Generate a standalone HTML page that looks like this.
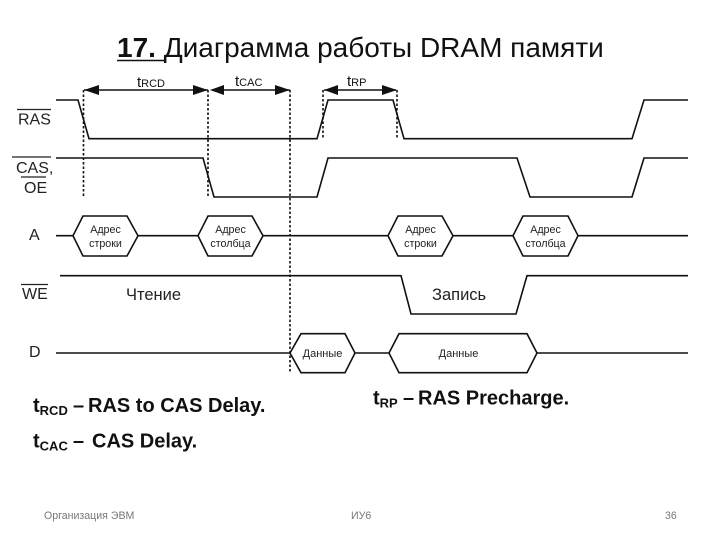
<!DOCTYPE html>
<html><head><meta charset="utf-8"><style>
html,body{margin:0;padding:0;background:#fff}
svg{display:block}
text{font-family:"Liberation Sans","Noto Sans CJK SC",sans-serif;fill:#111}
.l{font-size:16px;fill:#222}
.s{font-size:10.7px;text-anchor:middle;fill:#222}
.d{font-size:11px;text-anchor:middle;fill:#222}
.m{font-size:16.5px;fill:#222}
.sig{fill:none;stroke:#111;stroke-width:1.6}
.dot{fill:none;stroke:#111;stroke-width:1.6;stroke-dasharray:2.5 2}
.b{font-size:20px;font-weight:bold}
.sub{font-size:13px;font-weight:bold}
.f{font-size:10.6px;fill:#777}
</style></head><body>
<svg width="720" height="540" viewBox="0 0 720 540" xmlns="http://www.w3.org/2000/svg">
<text x="117" y="57" font-size="28"><tspan font-weight="bold">17. </tspan>Диаграмма работы DRAM памяти</text>
<line x1="117" y1="60.5" x2="164" y2="60.5" stroke="#111" stroke-width="1.5"/>

<path class="dot" d="M83.5 90V197M208 90V197M290 90V373M323 90V138M397 90V138"/>

<path class="sig" d="M84 90H208M212 90H290M324 90H396"/>
<g fill="#111">
<polygon points="84,90 99,85 99,95"/><polygon points="208,90 193,85 193,95"/>
<polygon points="210,90 224,85 224,95"/><polygon points="290,90 275,85 275,95"/>
<polygon points="324,90 338,85 338,95"/><polygon points="397,90 382,85 382,95"/>
</g>
<text x="137" y="87" font-size="15">t<tspan font-size="11">RCD</tspan></text>
<text x="235" y="86" font-size="15">t<tspan font-size="11">CAC</tspan></text>
<text x="347" y="86" font-size="15">t<tspan font-size="11">RP</tspan></text>

<path class="sig" d="M56 100H78L89 138.7H317L328 100H393L404 138.7H632L644 100H688"/>
<path class="sig" d="M56 158H203L214 197H317L328 158H517L530 197H632L644 158H688"/>
<path class="sig" d="M56 235.7H73M138 235.7H198M263 235.7H388M453 235.7H513M578 235.7H688"/>
<path class="sig" d="M73 235.7L83 216H127L138 235.7L127 256H83Z"/>
<path class="sig" d="M198 235.7L208 216H252L263 235.7L252 256H208Z"/>
<path class="sig" d="M388 235.7L398 216H442L453 235.7L442 256H398Z"/>
<path class="sig" d="M513 235.7L523 216H568L578 235.7L568 256H523Z"/>
<path class="sig" d="M60 275.7H401L411 314H516L527 275.7H688"/>
<path class="sig" d="M56 353H290M355 353H389M537 353H688"/>
<path class="sig" d="M290 353L301 333.7H345L355 353L345 372.7H301Z"/>
<path class="sig" d="M389 353L399 333.7H527L537 353L527 372.7H399Z"/>

<text class="l" x="18" y="124.5">RAS</text>
<line x1="17" y1="109.5" x2="51" y2="109.5" stroke="#222" stroke-width="1.2"/>
<text class="l" x="16" y="173">CAS,</text>
<line x1="12" y1="157" x2="51" y2="157" stroke="#222" stroke-width="1.2"/>
<text class="l" x="24" y="193">OE</text>
<line x1="21" y1="177" x2="46" y2="177" stroke="#222" stroke-width="1.2"/>
<text class="l" x="29" y="240">A</text>
<text class="l" x="22" y="299">WE</text>
<line x1="21" y1="284.5" x2="48" y2="284.5" stroke="#222" stroke-width="1.2"/>
<text class="l" x="29" y="357">D</text>

<text class="s" x="105.5" y="233">Адрес</text><text class="s" x="105.5" y="247">строки</text>
<text class="s" x="230.5" y="233">Адрес</text><text class="s" x="230.5" y="247">столбца</text>
<text class="s" x="420.5" y="233">Адрес</text><text class="s" x="420.5" y="247">строки</text>
<text class="s" x="545.5" y="233">Адрес</text><text class="s" x="545.5" y="247">столбца</text>
<text class="d" x="322.5" y="357">Данные</text>
<text class="d" x="458.5" y="357">Данные</text>
<text class="m" x="126" y="300">Чтение</text>
<text class="m" x="432" y="300">Запись</text>

<text class="b" x="33" y="412">t<tspan class="sub" dy="3">RCD</tspan><tspan x="73" dy="-3">–</tspan><tspan x="88">RAS to CAS Delay.</tspan></text>
<text class="b" x="33" y="447.5">t<tspan class="sub" dy="3">CAC</tspan><tspan x="73" dy="-3">–</tspan><tspan x="92">CAS Delay.</tspan></text>
<text class="b" x="373" y="404.5">t<tspan class="sub" dy="3">RP</tspan><tspan x="403" dy="-3">–</tspan><tspan x="418">RAS Precharge.</tspan></text>

<text class="f" x="44" y="519">Организация ЭВМ</text>
<text class="f" x="351" y="519">ИУ6</text>
<text class="f" x="665" y="519">36</text>
</svg>
</body></html>
